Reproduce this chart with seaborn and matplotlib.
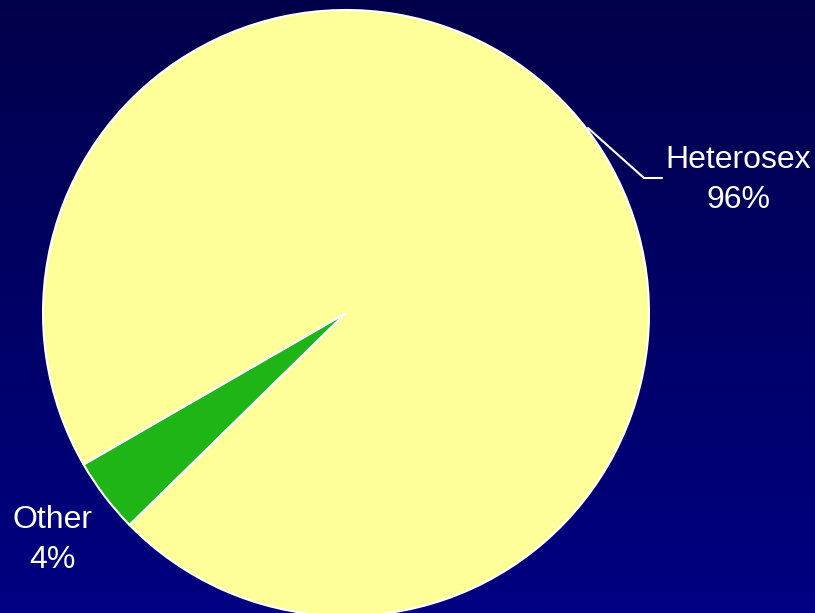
import numpy as np
import matplotlib
matplotlib.use('Agg')
import matplotlib.pyplot as plt
import seaborn as sns

# Data
categories = ['Other', 'Heterosex']
shares = [4, 96]
pct_labels = ['4%', '96%']
colors = sns.color_palette(['#1fb516', '#ffff99'])

sns.set_style('white')
plt.rcParams['font.family'] = ['Liberation Sans Narrow', 'Liberation Sans', 'DejaVu Sans']

W, H = 815, 613
fig = plt.figure(figsize=(W / 100, H / 100), dpi=100)

# gradient background
bg = fig.add_axes([0, 0, 1, 1], zorder=0)
grad = np.linspace(0, 1, 256).reshape(-1, 1)
cmap = matplotlib.colors.LinearSegmentedColormap.from_list('bg', ['#00004a', '#000082'])
bg.imshow(grad, aspect='auto', cmap=cmap, extent=[0, 1, 0, 1], origin='upper')
bg.axis('off')

# pie axes: center at pixel (346, 313), radius 303 px
cx, cy, r = 346, 313, 303
ax = fig.add_axes([0, 0, 1, 1], zorder=1)
ax.patch.set_alpha(0)
ax.pie(shares, colors=colors, startangle=210, counterclock=True,
       wedgeprops=dict(edgecolor='white', linewidth=1.5))
ax.set_aspect('auto')
ax.set_xlim(-cx / r, (W - cx) / r)
ax.set_ylim(-(H - cy) / r, cy / r)
ax.axis('off')

def px(x, y):
    return (x - cx) / r, (cy - y) / r

# leader line for Heterosex
p1, p2, p3 = px(588, 128), px(644, 178), px(662, 178)
ax.plot([p1[0], p2[0], p3[0]], [p1[1], p2[1], p3[1]], color='white', lw=1.5)

tx, ty = px(738, 180)
ax.text(tx, ty, f'{categories[1]}\n{pct_labels[1]}', color='white', fontsize=23,
        ha='center', va='center', linespacing=1.45)
tx, ty = px(52, 540)
ax.text(tx, ty, f'{categories[0]}\n{pct_labels[0]}', color='white', fontsize=23,
        ha='center', va='center', linespacing=1.45)

fig.savefig('out.png', dpi=100)
